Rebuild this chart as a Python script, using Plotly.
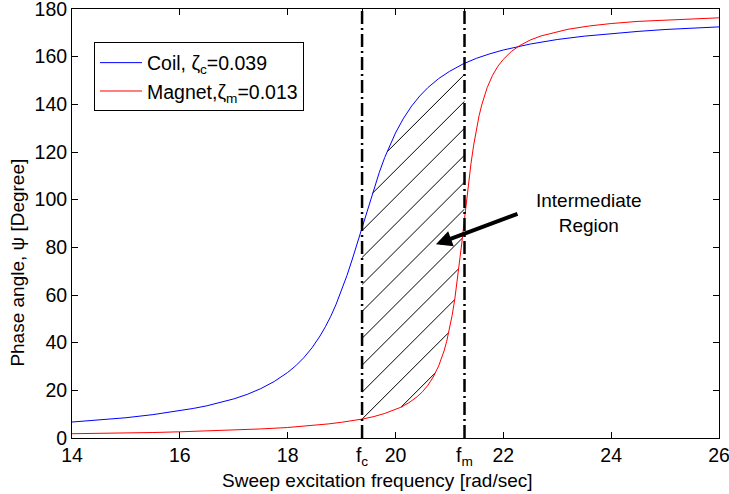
import numpy as np
import plotly.graph_objects as go

# Coil response
x_coil = [14.0, 14.5, 15.0, 15.5, 16.0, 16.25, 16.5, 16.75, 17.0, 17.25, 17.5, 17.75, 18.0, 18.15,
          18.3, 18.45, 18.6, 18.7, 18.8, 18.9, 19.0, 19.1, 19.2, 19.3, 19.4, 19.5, 19.6, 19.7,
          19.8, 19.9, 20.0, 20.15, 20.3, 20.45, 20.6, 20.8, 21.0, 21.25, 21.5, 21.75, 22.0,
          22.5, 23.0, 23.5, 24.0, 24.5, 25.0, 25.5, 26.0]
psi_coil = [6.7, 7.5, 8.5, 9.8, 11.4, 12.4, 13.5, 14.8, 16.4, 18.3, 20.7, 23.7, 27.5, 30.3,
            33.7, 37.8, 42.8, 46.7, 51.1, 56.2, 61.9, 68.2, 75.1, 82.5, 90.0, 97.5, 104.7, 111.5,
            117.7, 123.1, 128.0, 134.2, 139.3, 143.5, 147.0, 150.8, 153.8, 156.9, 159.3, 161.2, 162.8,
            165.3, 167.2, 168.6, 169.7, 170.6, 171.4, 172.0, 172.5]

# Magnet response
x_mag = [14.0, 14.5, 15.0, 15.5, 16.0, 16.5, 17.0, 17.5, 18.0, 18.5, 18.75, 19.0, 19.2, 19.4,
         19.6, 19.8, 20.1, 20.25, 20.4, 20.5, 20.6, 20.7, 20.8, 20.9, 20.95, 21.0, 21.05, 21.1,
         21.15, 21.2, 21.23, 21.27, 21.31, 21.35, 21.4, 21.45, 21.5, 21.55, 21.6, 21.7, 21.8,
         21.9, 22.0, 22.15, 22.3, 22.5, 22.7, 23.2, 23.6, 24.0, 24.5, 25.0, 25.5, 26.0]
psi_mag = [1.8, 1.9, 2.1, 2.3, 2.6, 2.9, 3.3, 3.8, 4.4, 5.3, 5.9, 6.6, 7.2, 8.0,
           9.0, 10.3, 12.9, 14.8, 17.3, 19.4, 22.1, 25.6, 30.2, 36.5, 40.6, 45.5, 51.4, 58.3,
           66.5, 75.8, 81.8, 90.0, 98.2, 106.1, 115.1, 122.9, 129.6, 135.2, 139.8, 147.0, 152.2,
           156.0, 158.9, 162.2, 164.6, 167.0, 168.7, 171.5, 172.9, 173.9, 174.8, 175.4, 175.9, 176.3]

fc = 19.38
fm = 21.28

x_ticks = [14, 16, 18, fc, 20, fm, 22, 24, 26]
x_ticktext = ["14", "16", "18", "f<sub>c</sub>", "20", "f<sub>m</sub>", "22", "24", "26"]
y_ticks = [0, 20, 40, 60, 80, 100, 120, 140, 160, 180]

# hatch style: 45-degree lines on screen (data slope = (px per x unit)/(px per degree)), spacing in degrees
hatch_slope = 22.6
hatch_step = 11.3

# hatched intermediate region: between the two curves, fc <= x <= fm
xs = np.linspace(fc, fm, 4000)
top = np.interp(xs, x_coil, psi_coil)
bot = np.interp(xs, x_mag, psi_mag)
start = float(np.interp(fc, x_mag, psi_mag))
hx, hy = [], []
for k in range(-20, 20):
    yl = start + k * hatch_step + hatch_slope * (xs - fc)
    inside = (yl >= bot) & (yl <= top)
    if not inside.any():
        continue
    idx = np.flatnonzero(inside)
    breaks = np.flatnonzero(np.diff(idx) > 1)
    runs = np.split(idx, breaks + 1)
    for r in runs:
        if len(r) < 2:
            continue
        hx += [xs[r[0]], xs[r[-1]], None]
        hy += [yl[r[0]], yl[r[-1]], None]

FONT = "Liberation Sans, Arial, Helvetica, sans-serif"

fig = go.Figure()
fig.add_trace(go.Scatter(x=hx, y=hy, mode="lines",
                         line=dict(color="black", width=1),
                         showlegend=False, hoverinfo="skip"))
fig.add_trace(go.Scatter(x=x_coil, y=psi_coil, mode="lines",
                         line=dict(color="#0000ff", width=1),
                         name="Coil, ζ<sub>c</sub>=0.039"))
fig.add_trace(go.Scatter(x=x_mag, y=psi_mag, mode="lines",
                         line=dict(color="#ff0000", width=1),
                         name="Magnet,ζ<sub>m</sub>=0.013"))

for xv in (fc, fm):
    fig.add_shape(type="line", xref="x", yref="y", x0=xv, x1=xv, y0=0, y1=180,
                  line=dict(color="black", width=2.5, dash="13px,4px,2px,4px"))

fig.add_annotation(x=20.75, y=81.3, ax=22.29, ay=94.3, axref="x", ayref="y",
                   xref="x", yref="y", text="", showarrow=True,
                   arrowhead=2, arrowsize=0.8, arrowwidth=4, arrowcolor="black")
fig.add_annotation(x=23.59, y=94.2, xref="x", yref="y", showarrow=False,
                   text="Intermediate<br>Region", align="center",
                   font=dict(size=19, color="black", family=FONT))

# axis titles (placed as in the reference, off-centre)
fig.add_annotation(x=-0.084, y=0.408, xref="paper", yref="paper", showarrow=False,
                   text="Phase angle, ψ [Degree]", textangle=-90,
                   xanchor="center", yanchor="middle",
                   font=dict(size=19, color="black", family=FONT))
fig.add_annotation(x=0.472, y=-0.098, xref="paper", yref="paper", showarrow=False,
                   text="Sweep excitation frequency [rad/sec]",
                   xanchor="center", yanchor="middle",
                   font=dict(size=19, color="black", family=FONT))

fig.update_layout(
    width=729, height=494,
    margin=dict(l=72, r=10, t=9, b=56, autoexpand=False),
    paper_bgcolor="white", plot_bgcolor="white",
    font=dict(family=FONT, size=19, color="black"),
    showlegend=True,
    legend=dict(x=0.034, y=0.922, xanchor="left", yanchor="top",
                bgcolor="white", bordercolor="black", borderwidth=1,
                itemwidth=42,
                font=dict(size=19.5, family=FONT)),
    xaxis=dict(range=[13.9999, 26.0001], tickvals=x_ticks, ticktext=x_ticktext,
               ticks="inside", ticklen=6, tickcolor="black", showline=True,
               linecolor="black", linewidth=1, mirror="allticks", showgrid=False,
               zeroline=False, tickfont=dict(size=19.5), ticklabeloverflow="allow",
               automargin=False),
    yaxis=dict(range=[-0.0001, 180.0001], tickvals=y_ticks,
               ticks="inside", ticklen=6, tickcolor="black", showline=True,
               linecolor="black", linewidth=1, mirror="allticks", showgrid=False,
               zeroline=False, tickfont=dict(size=19.5), ticklabeloverflow="allow",
               automargin=False),
)

fig.write_html("out.html")
